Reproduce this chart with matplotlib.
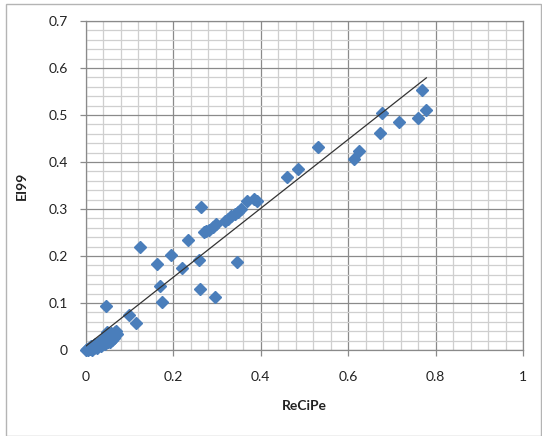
import matplotlib
matplotlib.use("Agg")
import matplotlib.pyplot as plt
from matplotlib.ticker import MultipleLocator
from matplotlib.patches import Rectangle
import numpy as np

plt.rcParams['font.family'] = ['Lato', 'DejaVu Sans']

recipe = [0.769, 0.779, 0.759, 0.716, 0.678, 0.674, 0.626, 0.613, 0.531, 0.486,
          0.460, 0.386, 0.391, 0.369, 0.355, 0.349, 0.341, 0.333, 0.325, 0.319,
          0.263, 0.298, 0.290, 0.282, 0.276, 0.270, 0.234, 0.124, 0.196, 0.259,
          0.162, 0.221, 0.346, 0.170, 0.261, 0.174, 0.296, 0.046, 0.098, 0.116,
          0.000, 0.003, 0.006, 0.008, 0.010, 0.012, 0.015, 0.018, 0.020, 0.022,
          0.025, 0.028, 0.030, 0.033, 0.035, 0.038, 0.040, 0.042, 0.045, 0.047,
          0.050, 0.052, 0.055, 0.058, 0.060, 0.063, 0.066, 0.070, 0.068, 0.048,
          0.044, 0.015, 0.055, 0.060, 0.065, 0.035, 0.025, 0.072, 0.050]
ei99 = [0.553, 0.511, 0.494, 0.486, 0.504, 0.461, 0.423, 0.406, 0.432, 0.385,
        0.368, 0.321, 0.316, 0.318, 0.299, 0.293, 0.289, 0.285, 0.279, 0.275,
        0.305, 0.268, 0.262, 0.256, 0.254, 0.252, 0.235, 0.220, 0.203, 0.191,
        0.183, 0.174, 0.187, 0.136, 0.130, 0.102, 0.113, 0.094, 0.074, 0.058,
        0.000, 0.002, 0.001, 0.005, 0.003, 0.008, 0.006, 0.010, 0.004, 0.012,
        0.009, 0.015, 0.011, 0.018, 0.014, 0.022, 0.017, 0.025, 0.020, 0.030,
        0.024, 0.034, 0.028, 0.036, 0.030, 0.034, 0.038, 0.040, 0.032, 0.038,
        0.012, 0.000, 0.018, 0.022, 0.026, 0.008, 0.004, 0.034, 0.016]

trend_slope = 0.733
trend_intercept = 0.008

x_ticks = [0, 0.2, 0.4, 0.6, 0.8, 1]
x_tick_labels = ["0", "0.2", "0.4", "0.6", "0.8", "1"]
y_ticks = [0, 0.1, 0.2, 0.3, 0.4, 0.5, 0.6, 0.7]
y_tick_labels = ["0", "0.1", "0.2", "0.3", "0.4", "0.5", "0.6", "0.7"]

fig = plt.figure(figsize=(5.42, 4.36), dpi=100)
fig.patches.append(Rectangle((6/542, 0.0), 535/542, 1 - 4/436, transform=fig.transFigure,
                             fill=False, edgecolor="#b4b4b4", linewidth=1.0))
ax = fig.add_axes([85.7/542, 1 - 350/436, (523 - 85.7)/542, (350 - 21)/436])

ax.set_xlim(0, 1)
ax.set_ylim(0, 0.7)
ax.xaxis.set_major_locator(MultipleLocator(0.2))
ax.xaxis.set_minor_locator(MultipleLocator(0.04))
ax.yaxis.set_major_locator(MultipleLocator(0.1))
ax.yaxis.set_minor_locator(MultipleLocator(0.02))
ax.set_xticks(x_ticks)
ax.set_xticklabels(x_tick_labels)
ax.set_yticks(y_ticks)
ax.set_yticklabels(y_tick_labels)

ax.grid(which="minor", color="#cfcfcf", linewidth=0.9)
ax.grid(which="major", color="#8a8a8a", linewidth=0.9)
ax.set_axisbelow(True)
for s in ax.spines.values():
    s.set_color("#8a8a8a")
    s.set_linewidth(0.9)

ax.tick_params(which="minor", length=0)
ax.tick_params(which="major", length=4, width=0.9, color="#8a8a8a", labelsize=10,
               labelcolor="#222222")
ax.tick_params(axis="x", which="major", pad=11)
ax.tick_params(axis="y", which="major", pad=9)

ax.plot(recipe, ei99, linestyle="none", marker="D", markersize=6.2,
        markerfacecolor="#4a7ebb", markeredgecolor="#4a7ebb", zorder=3, clip_on=False)

xs = np.array([min(recipe), max(recipe)])
ax.plot(xs, trend_intercept + trend_slope * xs, color="#333333", linewidth=0.9, zorder=4)

ax.set_xlabel("ReCiPe", fontsize=10, fontweight="bold", labelpad=12, color="#222222")
ax.set_ylabel("EI99", fontsize=10, fontweight="bold", labelpad=15, color="#222222")

fig.savefig("out.png", dpi=100)
